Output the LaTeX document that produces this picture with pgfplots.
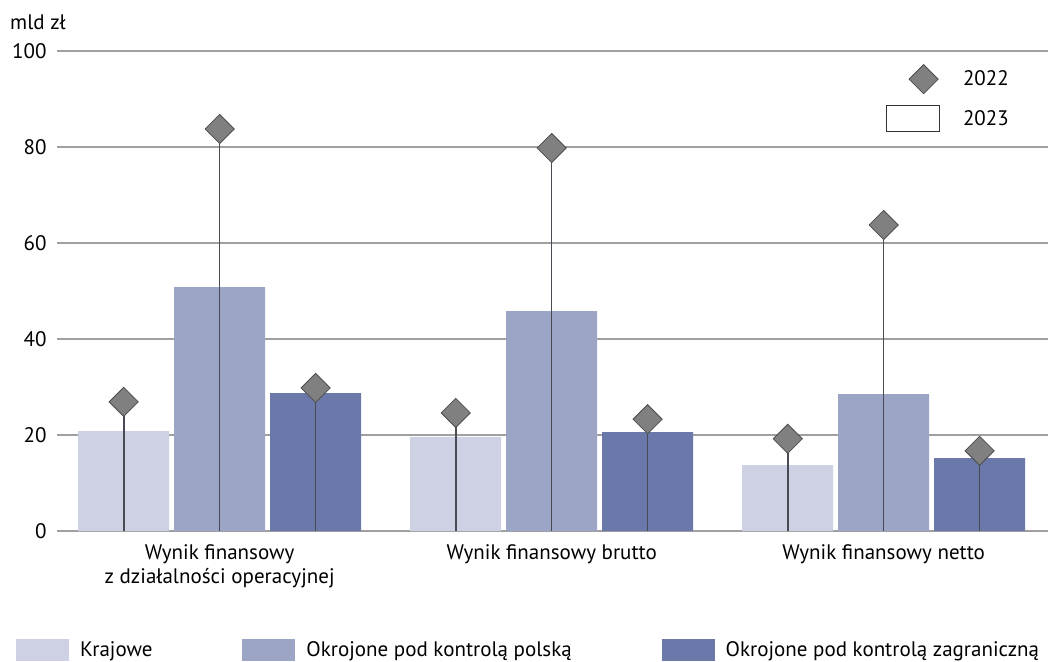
\documentclass[border=0pt]{standalone}
\usepackage{fontspec}
\setmainfont{PT Sans}
\usepackage{pgfplots}
\pgfplotsset{compat=1.18}
\definecolor{cA}{HTML}{CED1E4}
\definecolor{cB}{HTML}{9CA5C6}
\definecolor{cC}{HTML}{6B79AA}
\definecolor{dg}{HTML}{808080}
\definecolor{stem}{HTML}{4A4A55}
\definecolor{gridc}{HTML}{A0A0A0}
\begin{document}
\begin{tikzpicture}
\pgfplotsset{every axis/.append style={font=\fontsize{21}{24}\selectfont}}
\begin{axis}[
  scale only axis, width=991pt, height=480pt,
  xmin=-0.49, xmax=2.495, ymin=0, ymax=100,
  axis line style={draw=none},
  major tick length=0pt,
  ytick={0,20,...,100},
  ymajorgrids, grid style={draw=gridc, line width=1.2pt},
  xtick={0,1,2},
  xticklabels={{Wynik finansowy\\z działalności operacyjnej},{Wynik finansowy brutto},{Wynik finansowy netto}},
  xticklabel style={align=center, yshift=-10pt},
  yticklabel style={xshift=-7pt},
  /pgf/number format/assume math mode=true,
  clip=false,
  legend style={at={(axis description cs:0,0)}, anchor=west, xshift=-41pt, yshift=-119pt,
    draw=none, inner sep=0pt, legend columns=3,
    nodes={inner sep=0pt},
    /tikz/every odd column/.append style={column sep=11pt},
    /tikz/every even column/.append style={column sep=90pt}},
]
\addplot[ybar, bar width=0.274, bar shift=0pt, fill=cA, draw=none,
  legend image code/.code={\fill[cA] (0pt,-11pt) rectangle (53pt,11pt);}]
  coordinates {(-0.289,20.8) (0.711,19.6) (1.711,13.75)};
\addlegendentry{Krajowe}
\addplot[ybar, bar width=0.274, bar shift=0pt, fill=cB, draw=none,
  legend image code/.code={\fill[cB] (0pt,-11pt) rectangle (53pt,11pt);}]
  coordinates {(0,50.8) (1,45.8) (2,28.5)};
\addlegendentry{Okrojone pod kontrolą polską}
\addplot[ybar, bar width=0.274, bar shift=0pt, fill=cC, draw=none,
  legend image code/.code={\fill[cC] (0pt,-11pt) rectangle (53pt,11pt);}]
  coordinates {(0.289,28.75) (1.289,20.6) (2.289,15.2)};
\addlegendentry{Okrojone pod kontrolą zagraniczną}
\addplot[ycomb, forget plot, draw=stem, line width=1.6pt, mark=square*, mark size=10.3pt,
  mark options={rotate=45, fill=dg, draw=black!70, line width=0.8pt}]
  coordinates {(-0.289,26.9) (0,83.75) (0.289,29.8)
               (0.711,24.6) (1,79.8) (1.289,23.3)
               (1.711,19.2) (2,63.75) (2.289,16.7)};
\node[anchor=west, inner sep=0pt] at (rel axis cs:0,1) [xshift=-47pt, yshift=29pt] {mld zł};
\coordinate (BL) at (rel axis cs:0,0);
\coordinate (TR) at (rel axis cs:1,1);
\end{axis}
\begin{axis}[
  scale only axis, width=991pt, height=480pt,
  xmin=-0.49, xmax=2.495, ymin=0, ymax=100,
  hide axis,
  legend style={at={(axis description cs:0,1)}, anchor=north west, xshift=829pt, yshift=-13pt,
    draw=none, fill=none, inner sep=0pt,
    nodes={inner sep=0pt},
    /tikz/every odd column/.append style={column sep=23pt},
    row sep=11pt},
]
\addplot[draw=none, forget plot] coordinates {(0,0)};
\addlegendimage{legend image code/.code={\draw[fill=dg, draw=black!70, line width=0.8pt, rotate around={45:(37pt,0pt)}] (26.7pt,-10.3pt) rectangle (47.3pt,10.3pt);}}
\addlegendentry{2022}
\addlegendimage{legend image code/.code={\draw[black!80, line width=0.8pt] (0pt,-13pt) rectangle (53pt,13pt);}}
\addlegendentry{2023}
\end{axis}
\pgfresetboundingbox
\path ([xshift=-57pt,yshift=-130pt]BL) rectangle ([yshift=51pt]TR);
\end{tikzpicture}
\end{document}
